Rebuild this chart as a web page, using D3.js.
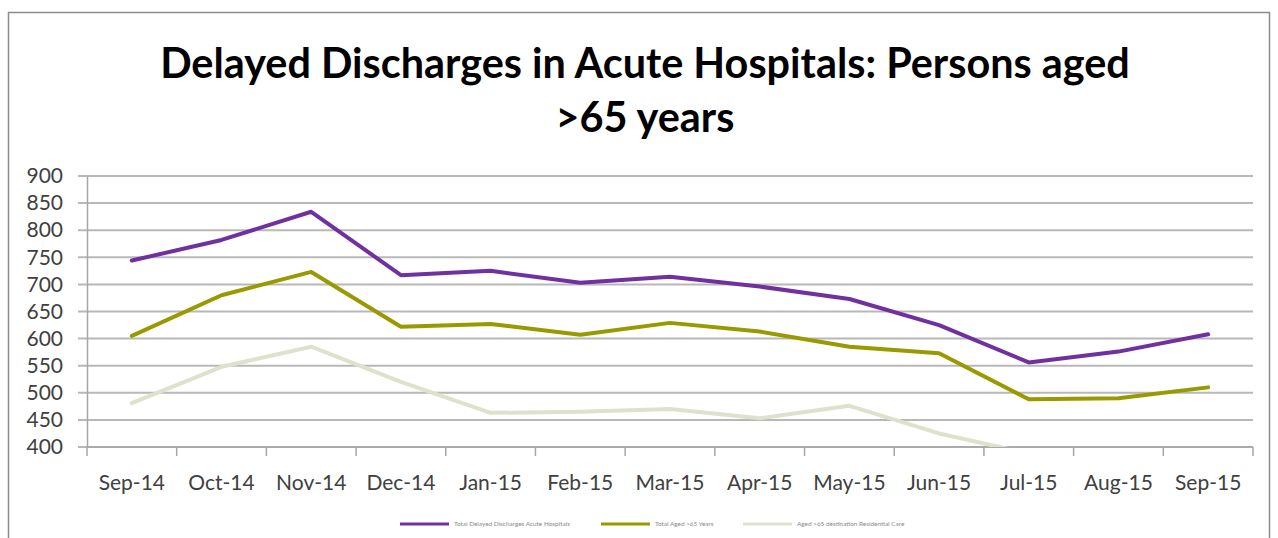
<!DOCTYPE html>
<html>
<head>
<meta charset="utf-8">
<script src="https://cdn.jsdelivr.net/npm/d3@7"></script>
<style>
  html, body { margin: 0; padding: 0; background: #fff; }
  svg { display: block; }
</style>
</head>
<body>
<svg id="chart" width="1278" height="538"></svg>
<script>
// months on the category axis
const months = ['Sep-14', 'Oct-14', 'Nov-14', 'Dec-14', 'Jan-15', 'Feb-15', 'Mar-15',
                'Apr-15', 'May-15', 'Jun-15', 'Jul-15', 'Aug-15', 'Sep-15']

// series values (null = below the axis, not readable)
const totalDelayed = [744, 782, 834, 717, 725, 703, 714, 696, 673, 625, 556, 576, 608]
const totalAged65 = [605, 680, 723, 622, 627, 607, 629, 613, 585, 573, 488, 490, 510]
const aged65Residential = [481, 548, 585, 520, 463, 465, 470, 453, 476, 425, 388, null, null]

const seriesNames = ['Total Delayed Discharges Acute Hospitals', 'Total Aged >65 Years',
                     'Aged >65 destination Residential Care']
const yTicks = [400, 450, 500, 550, 600, 650, 700, 750, 800, 850, 900]

const series = [
  { name: seriesNames[0], values: totalDelayed, color: '#7030a0' },
  { name: seriesNames[1], values: totalAged65, color: '#999900' },
  { name: seriesNames[2], values: aged65Residential, color: '#dde2cc' }
]

const svg = d3.select('#chart')
const plot = { left: 87, right: 1253, top: 176, bottom: 447 }

// outer chart frame
svg.append('rect')
  .attr('x', 8.5).attr('y', 12.5)
  .attr('width', 1261).attr('height', 600)
  .attr('fill', 'none')
  .attr('stroke', '#8c8c8c')
  .attr('stroke-width', 1.5)

// title, two lines
const title = svg.append('text')
  .attr('text-anchor', 'middle')
  .attr('font-family', 'Lato, "Open Sans", sans-serif')
  .attr('font-weight', 'bold')
  .attr('font-size', 38)
  .attr('fill', '#000')
title.append('tspan').attr('x', 645).attr('y', 78)
  .text('Delayed Discharges in Acute Hospitals: Persons aged')
title.append('tspan').attr('x', 645).attr('y', 132)
  .text('>65 years')

// fit first line to the width in the reference
const first = title.select('tspan').node()
const w = first.getComputedTextLength()
title.attr('font-size', 38 * 970 / w)

const x = d3.scaleBand()
  .domain(months)
  .range([plot.left, plot.right])

const y = d3.scaleLinear()
  .domain([400, 900])
  .range([plot.bottom, plot.top])

// horizontal gridlines
svg.append('g')
  .selectAll('line')
  .data(yTicks)
  .join('line')
  .attr('x1', plot.left - 9)
  .attr('x2', plot.right)
  .attr('y1', d => y(d))
  .attr('y2', d => y(d))
  .attr('stroke', '#b8b8b8')
  .attr('stroke-width', 2)

// y axis
const yAxis = d3.axisLeft(y)
  .tickValues(yTicks)
  .tickSize(0)
  .tickPadding(24)
const yg = svg.append('g')
  .attr('transform', `translate(${plot.left},0)`)
  .call(yAxis)
yg.select('.domain').attr('stroke', '#a6a6a6').attr('stroke-width', 1.5)
yg.selectAll('text')
  .attr('font-family', 'Lato, "Open Sans", sans-serif')
  .attr('font-size', 21)
  .attr('fill', '#404040')

// x axis with ticks between categories
const xg = svg.append('g')
  .attr('transform', `translate(0,${plot.bottom})`)
xg.append('line')
  .attr('x1', plot.left).attr('x2', plot.right)
  .attr('stroke', '#a6a6a6').attr('stroke-width', 1.5)
xg.selectAll('.tick-mark')
  .data(months.concat(['end']))
  .join('line')
  .attr('class', 'tick-mark')
  .attr('x1', (d, i) => plot.left + i * x.step())
  .attr('x2', (d, i) => plot.left + i * x.step())
  .attr('y1', 0)
  .attr('y2', 9)
  .attr('stroke', '#a6a6a6')
  .attr('stroke-width', 1.5)
xg.selectAll('.tick-label')
  .data(months)
  .join('text')
  .attr('class', 'tick-label')
  .attr('x', d => x(d) + x.bandwidth() / 2)
  .attr('y', 43)
  .attr('text-anchor', 'middle')
  .attr('font-family', 'Lato, "Open Sans", sans-serif')
  .attr('font-size', 21)
  .attr('fill', '#404040')
  .text(d => d)

// clip lines to the plot area, like the spreadsheet does
svg.append('clipPath').attr('id', 'plot-clip')
  .append('rect')
  .attr('x', plot.left).attr('y', plot.top - 10)
  .attr('width', plot.right - plot.left)
  .attr('height', plot.bottom - plot.top + 10)

const line = d3.line()
  .defined(d => d != null)
  .x((d, i) => x(months[i]) + x.bandwidth() / 2)
  .y(d => y(d))

svg.append('g')
  .attr('clip-path', 'url(#plot-clip)')
  .selectAll('path')
  .data(series.slice().reverse())
  .join('path')
  .attr('d', d => line(d.values))
  .attr('fill', 'none')
  .attr('stroke', d => d.color)
  .attr('stroke-width', 4)
  .attr('stroke-linejoin', 'round')
  .attr('stroke-linecap', 'round')

// legend along the bottom
const legendX = [400, 601, 743]
const legend = svg.append('g')
  .selectAll('g')
  .data(series)
  .join('g')
  .attr('transform', (d, i) => `translate(${legendX[i]},524)`)
legend.append('line')
  .attr('x1', 0).attr('x2', 49)
  .attr('stroke', d => d.color)
  .attr('stroke-width', 3)
legend.append('text')
  .attr('x', 54)
  .attr('y', 2)
  .attr('font-family', 'Lato, sans-serif')
  .attr('font-size', 6.4)
  .attr('fill', '#8a8a8a')
  .text(d => d.name)
</script>
</body>
</html>
